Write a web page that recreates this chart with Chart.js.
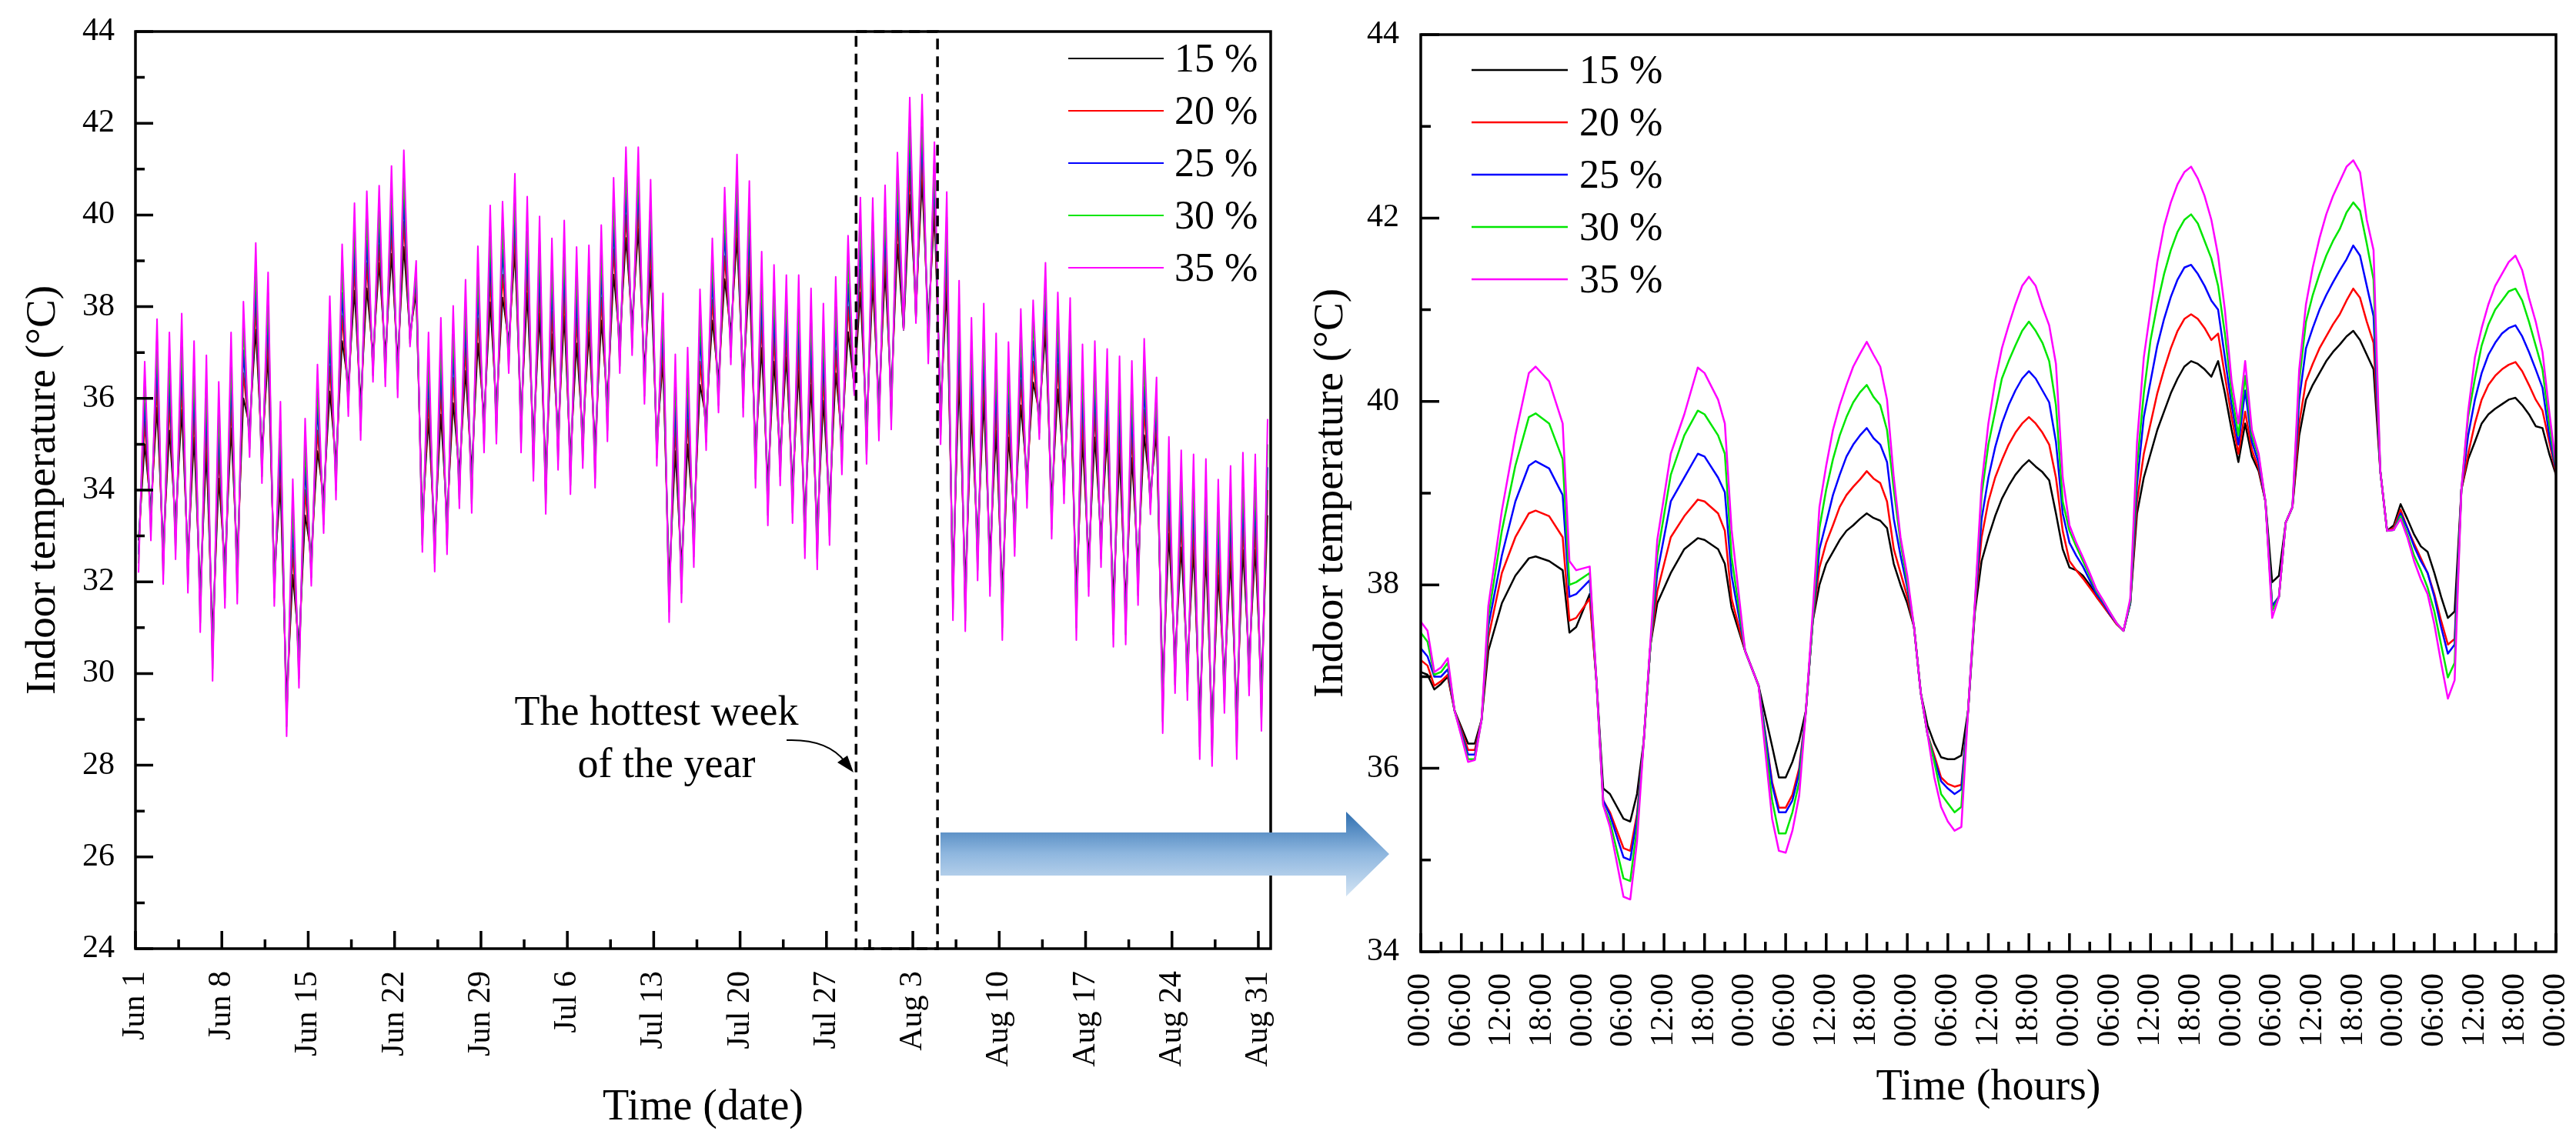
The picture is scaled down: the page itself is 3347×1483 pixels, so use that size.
<!DOCTYPE html>
<html>
<head>
<meta charset="utf-8">
<script src="https://cdn.jsdelivr.net/npm/chart.js@4.4.1/dist/chart.umd.min.js"></script>
<style>
html, body { margin: 0; padding: 0; background: #fff; }
body { width: 3347px; height: 1483px; position: relative; overflow: hidden; }
canvas { position: absolute; top: 0; }
#left { left: 0; }
#right { left: 1670px; }
</style>
</head>
<body>
<canvas id="left" width="1830" height="1483"></canvas>
<canvas id="right" width="1677" height="1483"></canvas>
<script>
// series shared by both panels
var seriesLabels = ['15 %', '20 %', '25 %', '30 %', '35 %'];
var seriesColors = ['#000000', '#ff0000', '#0000ff', '#00e600', '#ff00ff'];

// left panel: days since Jun 1, daily minimum (~06:00) and maximum (~18:00)
var dateTicks = [0, 7, 14, 21, 28, 35, 42, 49, 56, 63, 70, 77, 84, 91];
var dateLabels = ['Jun 1', 'Jun 8', 'Jun 15', 'Jun 22', 'Jun 29', 'Jul 6', 'Jul 13',
                  'Jul 20', 'Jul 27', 'Aug 3', 'Aug 10', 'Aug 17', 'Aug 24', 'Aug 31'];
var tempTicksLeft = [24, 26, 28, 30, 32, 34, 36, 38, 40, 42, 44];
var minTime = 0.25;
var maxTime = 0.75;
var hottestWeek = [58.4, 65.0];

var max15 = [35.0,35.8,35.3,35.75,35.15,34.85,34.25,35.35,36.0,37.5,
  36.95,34.1,32.15,33.45,34.85,36.15,37.25,38.35,38.4,38.95,
  39.15,39.3,38.3,35.55,35.65,35.9,36.6,37.2,38.1,38.2,
  39.2,38.3,37.85,37.4,37.8,37.2,37.45,37.7,38.7,39.5,
  39.7,38.8,36.8,34.85,35.0,36.3,37.7,38.6,39.5,38.65,
  37.1,36.8,36.9,36.6,36.3,35.95,36.55,37.45,38.31,38.51,
  38.78,39.36,40.44,40.77,40.04,38.4,36.45,35.65,35.95,35.3,
  35.15,35.85,36.35,37.45,36.2,36.4,35.1,35.15,35.2,34.8,
  34.7,35.2,35.25,33.05,32.75,32.7,32.6,32.15,32.45,32.7,
  32.7,33.45];
var max20 = [35.5,36.3,35.9,36.3,35.7,35.4,34.8,35.9,36.55,38.0,
  37.4,34.6,32.7,34.0,35.3,36.7,37.8,38.85,38.95,39.35,
  39.65,39.85,38.5,36.0,36.2,36.45,37.1,37.75,38.65,38.7,
  39.6,38.85,38.4,37.9,38.3,37.75,37.9,38.2,39.25,40.0,
  40.15,39.3,37.15,35.4,35.55,36.8,38.15,39.1,39.95,39.15,
  37.65,37.35,37.35,37.1,36.85,36.5,37.05,38.0,38.81,38.93,
  39.24,39.83,40.95,41.23,40.43,38.95,37.0,36.2,36.5,35.85,
  35.65,36.4,36.8,37.85,36.75,36.85,35.6,35.7,35.65,35.35,
  35.25,35.75,35.55,33.6,33.3,33.2,33.1,32.65,32.95,33.25,
  33.2,34.0];
var max25 = [35.9,36.8,36.4,36.8,36.2,35.9,35.3,36.4,37.05,38.45,
  37.85,35.0,33.2,34.5,35.8,37.2,38.3,39.3,39.45,39.8,
  40.1,40.35,38.65,36.5,36.7,37.0,37.6,38.3,39.15,39.25,
  40.05,39.35,38.9,38.45,38.85,38.25,38.4,38.75,39.75,40.5,
  40.6,39.8,37.55,35.9,36.05,37.35,38.6,39.6,40.4,39.7,
  38.15,37.85,37.8,37.65,37.35,37.0,37.6,38.5,39.35,39.43,
  39.71,40.33,41.49,41.7,40.83,39.45,37.5,36.7,37.0,36.35,
  36.2,36.9,37.25,38.2,37.25,37.3,36.15,36.2,36.15,35.85,
  35.75,36.25,35.85,34.1,33.8,33.75,33.6,33.2,33.5,33.75,
  33.75,34.5];
var max30 = [36.4,37.3,36.9,37.3,36.7,36.4,35.8,36.9,37.6,38.9,
  38.3,35.5,33.7,35.0,36.25,37.7,38.85,39.8,40.0,40.2,
  40.6,40.9,38.8,36.95,37.25,37.5,38.1,38.8,39.7,39.75,
  40.45,39.9,39.45,38.95,39.35,38.8,38.85,39.25,40.3,41.0,
  41.0,40.3,37.9,36.45,36.6,37.85,39.05,40.1,40.85,40.2,
  38.7,38.4,38.25,38.15,37.9,37.55,38.1,39.0,39.87,39.9,
  40.18,40.87,42.04,42.17,41.23,39.95,38.05,37.25,37.55,36.9,
  36.7,37.45,37.7,38.6,37.8,37.75,36.65,36.7,36.6,36.4,
  36.3,36.8,36.15,34.65,34.35,34.25,34.15,33.7,34.0,34.3,
  34.25,35.0];
var max35 = [36.8,37.73,37.44,37.85,37.25,36.94,36.36,37.44,38.11,39.39,
  38.75,35.93,34.24,35.56,36.74,38.23,39.36,40.26,40.52,40.64,
  41.07,41.41,39.0,37.44,37.76,38.02,38.59,39.32,40.21,40.29,
  40.9,40.4,39.97,39.49,39.88,39.3,39.34,39.78,40.81,41.48,
  41.48,40.77,38.29,36.96,37.11,38.38,39.49,40.6,41.32,40.74,
  39.2,38.91,38.69,38.69,38.4,38.07,38.65,39.55,40.38,40.37,
  40.65,41.36,42.56,42.63,41.59,40.5,38.57,37.76,38.07,37.42,
  37.23,37.95,38.14,38.96,38.31,38.19,37.18,37.25,37.08,36.92,
  36.82,37.3,36.46,35.16,34.87,34.78,34.68,34.23,34.53,34.82,
  34.78,35.55];

var min15 = [32.9,33.6,32.75,33.3,32.55,31.8,30.85,32.35,32.5,35.4,
  34.85,32.15,29.45,30.6,32.6,33.85,34.6,36.3,35.9,36.95,
  36.95,36.8,37.4,33.35,33.0,33.4,34.4,34.4,35.6,35.8,
  37.25,35.6,35.1,34.4,35.25,34.7,35.2,34.95,35.95,37.25,
  37.65,36.6,35.1,32.0,32.35,33.2,35.55,36.4,37.45,36.4,
  34.85,34.15,34.8,34.1,33.4,33.15,33.7,35.15,36.27,35.42,
  35.9,36.1,37.5,38.03,37.64,35.8,32.15,31.9,32.9,32.6,
  31.75,33.35,34.3,35.7,33.75,34.4,31.75,32.5,33.0,31.6,
  31.55,32.4,33.95,29.7,30.35,30.2,29.15,28.9,29.95,29.15,
  30.3,29.75];
var min20 = [32.6,33.3,32.4,33.0,32.25,31.45,30.45,32.0,32.1,35.15,
  34.55,31.9,29.1,30.25,32.3,33.55,34.3,36.0,35.55,36.7,
  36.7,36.5,37.3,33.05,32.7,33.1,34.1,34.05,35.3,35.5,
  36.95,35.3,34.75,34.0,34.9,34.4,34.9,34.6,35.6,36.95,
  37.35,36.3,34.9,31.65,32.05,32.85,35.3,36.1,37.15,36.1,
  34.55,33.8,34.5,33.75,33.05,32.8,33.35,34.8,36.2,35.1,
  35.57,35.8,37.5,37.77,37.35,35.5,31.75,31.5,32.55,32.25,
  31.35,33.05,34.0,35.45,33.4,34.1,31.35,32.2,32.75,31.2,
  31.2,32.05,33.75,29.3,30.05,29.9,28.75,28.5,29.6,28.75,
  30.0,29.35];
var min25 = [32.6,33.3,32.35,32.9,32.15,31.35,30.35,31.9,32.0,35.05,
  34.5,31.8,29.05,30.15,32.25,33.45,34.2,35.95,35.5,36.65,
  36.6,36.4,37.3,33.0,32.6,33.0,34.0,33.95,35.2,35.4,
  36.9,35.2,34.65,33.9,34.85,34.3,34.85,34.5,35.5,36.9,
  37.3,36.25,34.8,31.55,31.95,32.75,35.2,36.05,37.1,36.0,
  34.45,33.7,34.45,33.7,32.95,32.7,33.25,34.75,36.15,35.0,
  35.52,35.72,37.5,37.77,37.25,35.4,31.65,31.4,32.5,32.15,
  31.25,32.95,33.95,35.4,33.35,34.05,31.25,32.1,32.65,31.1,
  31.1,31.95,33.7,29.2,29.95,29.8,28.65,28.45,29.55,28.65,
  29.9,29.25];
var min30 = [32.4,33.1,32.15,32.7,31.95,31.1,30.1,31.65,31.75,34.9,
  34.3,31.65,28.85,29.9,32.1,33.25,34.0,35.8,35.3,36.5,
  36.45,36.2,37.2,32.8,32.4,32.8,33.8,33.7,35.0,35.2,
  36.7,35.0,34.4,33.7,34.65,34.1,34.65,34.25,35.3,36.7,
  37.1,36.05,34.7,31.35,31.75,32.55,35.05,35.85,36.9,35.8,
  34.25,33.45,34.3,33.5,32.75,32.5,33.0,34.55,36.1,34.77,
  35.29,35.52,37.5,37.72,36.99,35.2,31.4,31.15,32.25,31.9,
  31.0,32.75,33.8,35.25,33.15,33.9,31.0,31.9,32.5,30.85,
  30.85,31.7,33.6,28.95,29.75,29.6,28.4,28.2,29.35,28.4,
  29.7,29.0];
var min35 = [32.2,32.9,31.95,32.49,31.76,30.9,29.84,31.43,31.52,34.72,
  34.15,31.47,28.63,29.69,31.91,33.06,33.79,35.61,35.09,36.36,
  36.26,36.02,37.13,32.65,32.22,32.6,33.6,33.5,34.82,35.01,
  36.55,34.82,34.2,33.48,34.44,33.91,34.48,34.05,35.06,36.55,
  36.94,35.88,34.53,31.12,31.55,32.32,34.87,35.69,36.74,35.6,
  34.05,33.23,34.1,33.28,32.51,32.27,32.8,34.34,36.07,34.57,
  35.08,35.32,37.5,37.64,36.76,35.0,31.16,30.92,32.03,31.69,
  30.73,32.56,33.61,35.11,32.94,33.71,30.73,31.69,32.32,30.58,
  30.63,31.49,33.47,28.7,29.57,29.42,28.13,27.98,29.14,28.13,
  29.52,28.75];

// right panel: hottest week, hours from Jul 29 00:00
var hourTicks = [0,6,12,18,24,30,36,42,48,54,60,66,72,78,84,90,96,102,108,114,120,126,132,138,144,150,156,162,168];
var hourLabels = ['00:00','06:00','12:00','18:00','00:00','06:00','12:00','18:00','00:00','06:00',
  '12:00','18:00','00:00','06:00','12:00','18:00','00:00','06:00','12:00','18:00',
  '00:00','06:00','12:00','18:00','00:00','06:00','12:00','18:00','00:00'];
var tempTicksRight = [34, 36, 38, 40, 42, 44];
var hours = [0,1,2,3,4,5,7,8,9,10,12,14,16,17,19,21,22,23,25,26,
  27,28,30,31,32,33,34,35,37,39,41,42,44,45,46,48,50,52,53,54,
  55,56,57,58,59,60,61,62,63,64,65,66,67,68,69,70,71,72,73,74,
  75,76,77,78,79,80,81,82,83,84,85,86,87,88,89,90,91,92,93,94,
  95,96,97,98,99,100,101,102,103,104,105,106,107,108,109,110,111,112,113,114,
  115,116,117,118,119,120,121,122,123,124,125,126,127,128,129,130,131,132,133,134,
  135,136,137,138,139,140,141,142,143,144,145,146,147,148,149,150,151,152,153,154,
  155,156,157,158,159,160,161,162,163,164,165,166,167,168];

var week15 = [37.05,37.02,36.86,36.92,37.0,36.63,36.27,36.27,36.53,37.28,
  37.8,38.1,38.29,38.31,38.26,38.16,37.48,37.54,37.9,36.95,
  35.78,35.72,35.45,35.42,35.72,36.3,37.35,37.8,38.13,38.39,
  38.51,38.49,38.39,38.23,37.75,37.28,36.9,36.24,35.9,35.9,
  36.07,36.3,36.63,37.6,
  38.0,38.23,38.36,38.49,38.59,38.65,38.72,38.78,38.73,38.7,
  38.62,38.23,38.0,37.8,37.54,36.82,36.47,36.27,36.12,36.1,
  36.1,36.14,36.63,37.7,38.26,38.52,38.75,38.94,39.08,39.2,
  39.29,39.36,39.29,39.23,39.14,38.78,38.39,38.19,38.16,38.1,
  38.0,37.87,37.77,37.67,37.57,37.5,37.8,38.78,39.17,39.43,
  39.69,39.89,40.09,40.25,40.38,40.44,40.41,40.35,40.27,40.44,
  40.09,39.69,39.34,39.76,39.4,39.24,38.91,38.03,38.1,38.68,
  38.85,39.63,40.02,40.18,40.31,40.44,40.54,40.62,40.71,40.77,
  40.67,40.51,40.35,39.24,38.59,38.65,38.88,38.72,38.55,38.42,
  38.36,38.13,37.87,37.64,37.71,39.04,39.37,39.56,39.76,39.86,
  39.92,39.97,40.02,40.04,39.96,39.86,39.73,39.71,39.43,39.2];
var week20 = [37.18,37.12,36.9,36.95,37.02,36.63,36.2,36.2,36.53,37.42,
  38.13,38.52,38.78,38.81,38.75,38.52,37.61,37.64,37.85,36.95,
  35.65,35.52,35.13,35.1,35.5,36.3,37.35,37.93,38.52,38.75,
  38.93,38.91,38.78,38.59,37.85,37.28,36.9,35.85,35.57,35.57,
  35.71,36.0,36.63,37.6,
  38.19,38.46,38.65,38.85,38.98,39.07,39.15,39.24,39.16,39.11,
  38.91,38.39,38.13,37.87,37.54,36.82,36.37,36.14,35.9,35.83,
  35.8,35.82,36.63,37.74,38.52,38.91,39.17,39.36,39.53,39.66,
  39.76,39.83,39.76,39.66,39.53,39.17,38.59,38.26,38.16,38.07,
  37.97,37.87,37.77,37.67,37.57,37.5,37.8,38.91,39.43,39.76,
  40.09,40.35,40.58,40.77,40.9,40.95,40.9,40.8,40.67,40.74,
  40.28,39.83,39.43,39.89,39.47,39.27,38.91,37.77,37.87,38.68,
  38.85,39.76,40.22,40.41,40.58,40.71,40.84,40.95,41.1,41.23,
  41.13,40.87,40.64,39.24,38.59,38.62,38.82,38.62,38.45,38.29,
  38.13,37.9,37.61,37.35,37.41,39.04,39.43,39.76,40.02,40.18,
  40.28,40.35,40.4,40.43,40.33,40.18,40.02,39.9,39.56,39.22];
var week25 = [37.31,37.22,37.0,37.0,37.08,36.63,36.15,36.15,36.53,37.55,
  38.32,38.91,39.3,39.35,39.27,38.98,37.87,37.9,38.05,36.95,
  35.65,35.49,35.03,35.0,35.45,36.3,37.35,38.13,38.91,39.17,
  39.43,39.4,39.17,39.01,38.1,37.28,36.9,35.82,35.52,35.52,
  35.65,35.95,36.63,37.6,
  38.39,38.68,38.98,39.2,39.4,39.53,39.63,39.71,39.6,39.53,
  39.34,38.72,38.32,37.97,37.54,36.82,36.37,36.1,35.86,35.78,
  35.72,35.77,36.63,37.76,38.72,39.17,39.5,39.76,39.96,40.12,
  40.25,40.33,40.25,40.12,39.99,39.56,38.78,38.46,38.32,38.2,
  38.05,37.9,37.8,37.68,37.58,37.5,37.8,39.1,39.83,40.22,
  40.61,40.9,41.14,41.33,41.46,41.49,41.39,41.26,41.1,41.0,
  40.48,39.96,39.53,40.12,39.56,39.33,38.91,37.77,37.87,38.68,
  38.85,40.02,40.58,40.8,41.0,41.16,41.3,41.43,41.55,41.7,
  41.59,41.26,40.93,39.24,38.59,38.6,38.78,38.62,38.42,38.26,
  38.13,37.87,37.54,37.25,37.35,39.04,39.63,40.02,40.31,40.51,
  40.64,40.74,40.8,40.83,40.71,40.54,40.35,40.15,39.63,39.25];
var week30 = [37.48,37.38,37.02,37.05,37.15,36.63,36.1,36.1,36.53,37.65,
  38.59,39.3,39.83,39.87,39.76,39.37,38.0,38.03,38.13,36.95,
  35.6,35.42,34.8,34.77,35.35,36.3,37.35,38.32,39.2,39.63,
  39.9,39.86,39.63,39.43,38.3,37.28,36.9,35.65,35.29,35.29,
  35.52,35.85,36.63,37.62,
  38.62,39.04,39.37,39.63,39.83,39.99,40.1,40.18,40.05,39.96,
  39.69,39.04,38.46,38.03,37.54,36.82,36.37,36.07,35.72,35.62,
  35.52,35.58,36.63,37.78,38.98,39.53,39.89,40.25,40.44,40.61,
  40.77,40.87,40.77,40.64,40.44,39.96,38.91,38.59,38.42,38.26,
  38.1,37.93,37.82,37.7,37.58,37.5,37.82,39.3,40.09,40.67,
  41.06,41.39,41.65,41.85,41.98,42.04,41.94,41.75,41.56,41.26,
  40.74,40.09,39.63,40.28,39.63,39.4,38.91,37.72,37.87,38.68,
  38.85,40.22,40.87,41.16,41.39,41.59,41.75,41.88,42.06,42.17,
  42.08,41.72,41.33,39.24,38.59,38.6,38.75,38.55,38.32,38.16,
  37.97,37.71,37.35,36.99,37.15,39.04,39.83,40.25,40.61,40.84,
  41.0,41.1,41.2,41.23,41.1,40.87,40.61,40.35,39.76,39.27];
var week35 = [37.6,37.5,37.05,37.1,37.2,36.63,36.07,36.09,36.53,37.77,
  38.81,39.63,40.31,40.38,40.22,39.76,38.26,38.16,38.2,36.95,
  35.6,35.36,34.6,34.57,35.2,36.3,37.4,38.49,39.43,39.86,
  40.37,40.31,40.02,39.76,38.6,37.28,36.9,35.45,35.1,35.08,
  35.32,35.7,36.63,37.7,
  38.85,39.3,39.69,39.96,40.18,40.38,40.52,40.65,40.51,40.38,
  40.02,39.17,38.52,38.1,37.54,36.82,36.37,35.9,35.58,35.42,
  35.32,35.36,36.63,37.8,39.1,39.76,40.22,40.58,40.83,41.06,
  41.26,41.36,41.26,41.03,40.83,40.41,39.17,38.65,38.46,38.3,
  38.13,37.95,37.83,37.7,37.58,37.5,37.85,39.56,40.48,41.0,
  41.52,41.91,42.17,42.37,42.5,42.56,42.43,42.24,41.98,41.59,
  41.0,40.22,39.76,40.44,39.69,39.43,38.91,37.64,37.87,38.68,
  38.85,40.35,41.06,41.46,41.78,42.04,42.24,42.4,42.56,42.63,
  42.5,41.98,41.65,39.24,38.59,38.6,38.72,38.52,38.26,38.06,
  37.9,37.57,37.15,36.76,36.96,39.04,39.89,40.48,40.8,41.06,
  41.26,41.39,41.52,41.59,41.43,41.13,40.87,40.54,39.89,39.3];

var dailyMin = [min15, min20, min25, min30, min35];
var dailyMax = [max15, max20, max25, max30, max35];
var weekSeries = [week15, week20, week25, week30, week35];

var serif = "'Liberation Serif', 'Times New Roman', serif";
Chart.defaults.font.family = serif;
Chart.defaults.color = '#000';

function dayPoints(mins, maxs) {
  var pts = [];
  for (var d = 0; d < mins.length; d++) {
    pts.push({x: d + minTime, y: mins[d]});
    pts.push({x: d + maxTime, y: maxs[d]});
  }
  return pts;
}

function hourPoints(vals) {
  return hours.map(function (h, j) { return {x: h, y: vals[j]}; });
}

// box round the plot, with inward major ticks and a minor tick half-way between
function drawFrame(chart, xt, yt, major, minor) {
  var ctx = chart.ctx, a = chart.chartArea, x = chart.scales.x, y = chart.scales.y;
  ctx.save();
  ctx.strokeStyle = '#000';
  ctx.lineCap = 'butt';
  ctx.lineWidth = 3.5;
  ctx.beginPath();
  for (var i = 0; i < xt.length; i++) {
    var px = x.getPixelForValue(xt[i]);
    ctx.moveTo(px, a.bottom);
    ctx.lineTo(px, a.bottom - major);
    if (i < xt.length - 1) {
      var mx = x.getPixelForValue((xt[i] + xt[i + 1]) / 2);
      ctx.moveTo(mx, a.bottom);
      ctx.lineTo(mx, a.bottom - minor);
    }
  }
  for (var j = 0; j < yt.length; j++) {
    var py = y.getPixelForValue(yt[j]);
    ctx.moveTo(a.left, py);
    ctx.lineTo(a.left + major, py);
    if (j < yt.length - 1) {
      var my = y.getPixelForValue((yt[j] + yt[j + 1]) / 2);
      ctx.moveTo(a.left, my);
      ctx.lineTo(a.left + minor, my);
    }
  }
  ctx.stroke();
  ctx.lineWidth = 3.5;
  ctx.strokeRect(a.left, a.top, a.right - a.left, a.bottom - a.top);
  ctx.restore();
}

function drawKey(chart, x0, x1, tx, top, gap, lw) {
  var ctx = chart.ctx;
  ctx.save();
  ctx.font = '52px ' + serif;
  ctx.textBaseline = 'middle';
  ctx.textAlign = 'left';
  chart.data.datasets.forEach(function (ds, i) {
    var yy = top + i * gap;
    ctx.strokeStyle = ds.borderColor;
    ctx.lineWidth = lw;
    ctx.beginPath();
    ctx.moveTo(x0, yy);
    ctx.lineTo(x1, yy);
    ctx.stroke();
    ctx.fillStyle = '#000';
    ctx.fillText(ds.label, tx, yy + 3);
  });
  ctx.restore();
}

var leftDecor = {
  id: 'leftDecor',
  afterDraw: function (chart) {
    drawFrame(chart, dateTicks, tempTicksLeft, 23, 12);
    drawKey(chart, 1388, 1512, 1526, 76, 68, 2);
    var ctx = chart.ctx, a = chart.chartArea, x = chart.scales.x;
    ctx.save();
    // dashed box round the hottest week
    var b0 = x.getPixelForValue(hottestWeek[0]), b1 = x.getPixelForValue(hottestWeek[1]);
    ctx.strokeStyle = '#000';
    ctx.lineWidth = 3.5;
    ctx.setLineDash([14, 9]);
    ctx.strokeRect(b0, a.top, b1 - b0, a.bottom - a.top);
    ctx.setLineDash([]);
    // label and pointer
    ctx.fillStyle = '#000';
    ctx.font = '54px ' + serif;
    ctx.textAlign = 'center';
    ctx.textBaseline = 'alphabetic';
    ctx.fillText('The hottest week', 853, 942);
    ctx.fillText('of the year', 866, 1010);
    ctx.lineWidth = 2;
    ctx.beginPath();
    ctx.moveTo(1022, 962);
    ctx.quadraticCurveTo(1075, 960, 1098, 990);
    ctx.stroke();
    ctx.beginPath();
    ctx.moveTo(1109, 1004);
    ctx.lineTo(1088, 991);
    ctx.lineTo(1101, 982);
    ctx.closePath();
    ctx.fill();
    // blue arrow towards the zoomed panel
    var g = ctx.createLinearGradient(0, 1055, 0, 1165);
    g.addColorStop(0, '#2f6fb0');
    g.addColorStop(0.5, '#8fb7df');
    g.addColorStop(1, '#d3e4f4');
    ctx.fillStyle = g;
    ctx.beginPath();
    ctx.moveTo(1222, 1082);
    ctx.lineTo(1749, 1082);
    ctx.lineTo(1749, 1055);
    ctx.lineTo(1805, 1110);
    ctx.lineTo(1749, 1165);
    ctx.lineTo(1749, 1138);
    ctx.lineTo(1222, 1138);
    ctx.closePath();
    ctx.fill();
    ctx.restore();
  }
};

var rightDecor = {
  id: 'rightDecor',
  afterDraw: function (chart) {
    drawFrame(chart, hourTicks, tempTicksRight, 24, 13);
    drawKey(chart, 242, 367, 382, 91, 68, 2.5);
  }
};

new Chart(document.getElementById('left'), {
  type: 'line',
  data: {
    datasets: seriesLabels.map(function (label, i) {
      return {
        label: label,
        data: dayPoints(dailyMin[i], dailyMax[i]),
        borderColor: seriesColors[i],
        borderWidth: 2,
        borderJoinStyle: 'round',
        pointRadius: 0,
        tension: 0,
        order: seriesLabels.length - i
      };
    })
  },
  options: {
    responsive: false,
    animation: false,
    devicePixelRatio: 1,
    layout: {padding: {left: 0, top: 41, right: 179, bottom: 0}},
    plugins: {legend: {display: false}, tooltip: {enabled: false}},
    scales: {
      x: {
        type: 'linear', min: 0, max: 92,
        grid: {display: false, drawTicks: false},
        border: {display: false},
        afterBuildTicks: function (s) { s.ticks = dateTicks.map(function (v) { return {value: v}; }); },
        ticks: {
          autoSkip: false, minRotation: 90, maxRotation: 90, padding: 29,
          font: {size: 42}, color: '#000',
          callback: function (v, i) { return dateLabels[i]; }
        },
        title: {display: true, text: 'Time (date)', font: {size: 56}, color: '#000', padding: {top: 0, bottom: 9}},
        afterFit: function (s) { s.height = 250; s.paddingLeft = 0; s.paddingRight = 0; }
      },
      y: {
        min: 24, max: 44,
        grid: {display: false, drawTicks: false},
        border: {display: false},
        afterBuildTicks: function (s) { s.ticks = tempTicksLeft.map(function (v) { return {value: v}; }); },
        ticks: {padding: 27, font: {size: 42}, color: '#000'},
        title: {display: true, text: 'Indoor temperature (°C)', font: {size: 55}, color: '#000', padding: {top: 24, bottom: 0}},
        afterFit: function (s) { s.width = 176; s.paddingTop = 0; s.paddingBottom = 0; }
      }
    }
  },
  plugins: [leftDecor]
});

new Chart(document.getElementById('right'), {
  type: 'line',
  data: {
    datasets: seriesLabels.map(function (label, i) {
      return {
        label: label,
        data: hourPoints(weekSeries[i]),
        borderColor: seriesColors[i],
        borderWidth: 2.5,
        borderJoinStyle: 'round',
        pointRadius: 0,
        tension: 0,
        order: seriesLabels.length - i
      };
    })
  },
  options: {
    responsive: false,
    animation: false,
    devicePixelRatio: 1,
    layout: {padding: {left: 0, top: 45, right: 26, bottom: 0}},
    plugins: {legend: {display: false}, tooltip: {enabled: false}},
    scales: {
      x: {
        type: 'linear', min: 0, max: 168,
        grid: {display: false, drawTicks: false},
        border: {display: false},
        afterBuildTicks: function (s) { s.ticks = hourTicks.map(function (v) { return {value: v}; }); },
        ticks: {
          autoSkip: false, minRotation: 90, maxRotation: 90, padding: 28,
          font: {size: 42}, color: '#000',
          callback: function (v, i) { return hourLabels[i]; }
        },
        title: {display: true, text: 'Time (hours)', font: {size: 56}, color: '#000', padding: {top: 0, bottom: 35}},
        afterFit: function (s) { s.height = 246; s.paddingLeft = 0; s.paddingRight = 0; }
      },
      y: {
        min: 34, max: 44,
        grid: {display: false, drawTicks: false},
        border: {display: false},
        afterBuildTicks: function (s) { s.ticks = tempTicksRight.map(function (v) { return {value: v}; }); },
        ticks: {padding: 28, font: {size: 42}, color: '#000'},
        title: {display: true, text: 'Indoor temperature (°C)', font: {size: 55}, color: '#000', padding: {top: 27, bottom: 0}},
        afterFit: function (s) { s.width = 176; s.paddingTop = 0; s.paddingBottom = 0; }
      }
    }
  },
  plugins: [rightDecor]
});
</script>
</body>
</html>
